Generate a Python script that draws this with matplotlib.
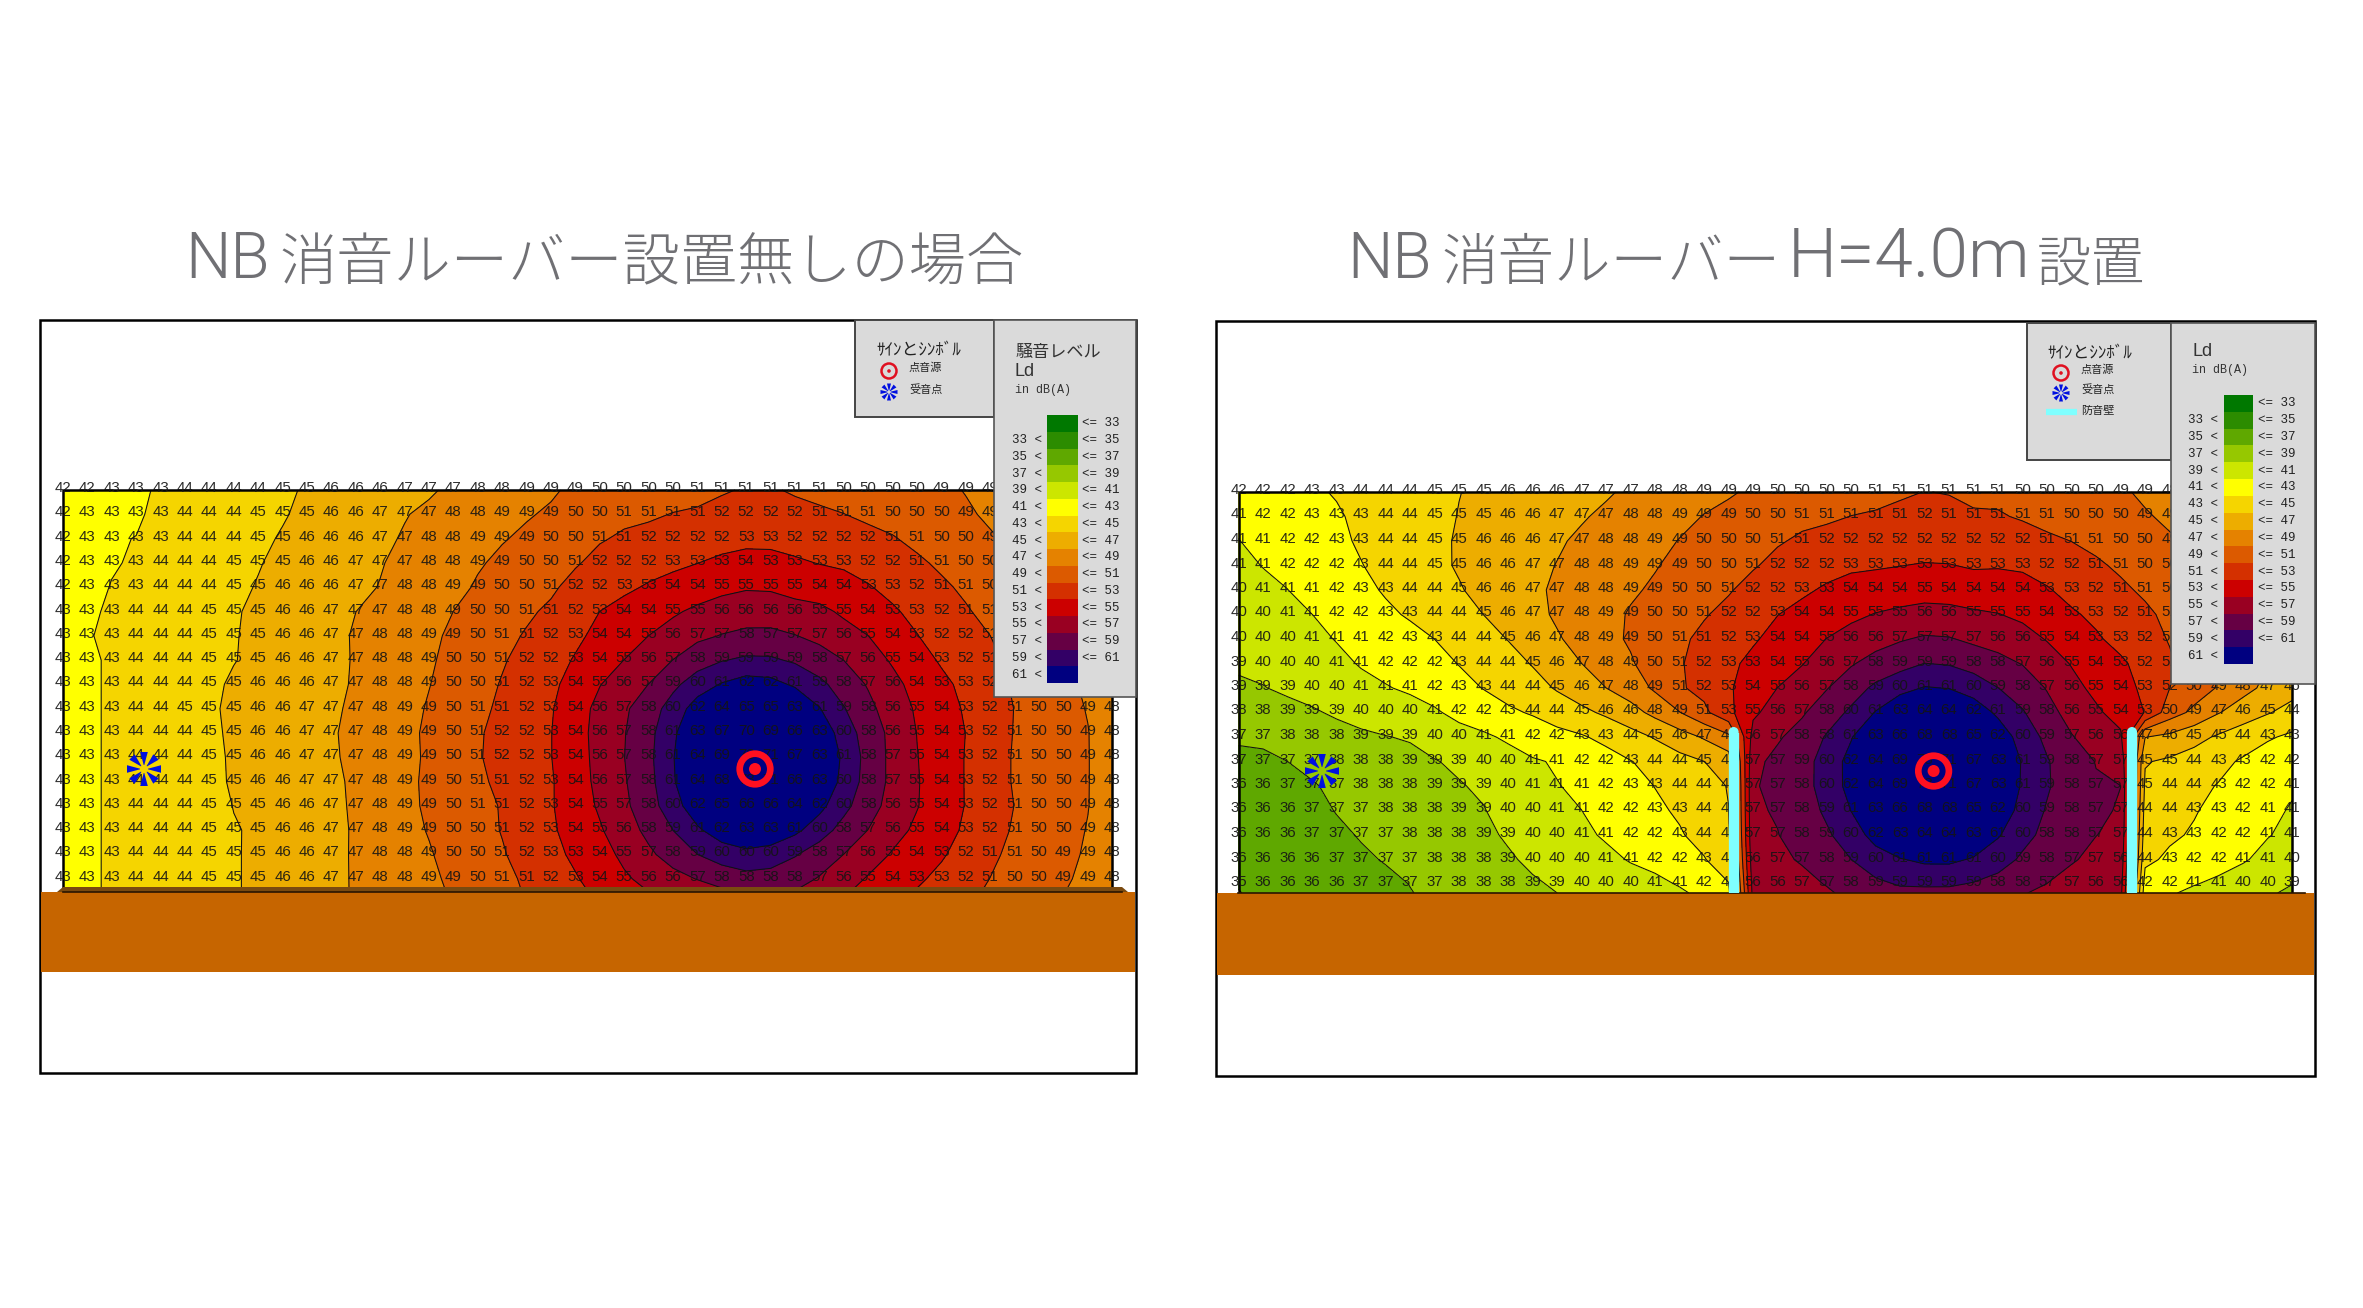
# NB消音ルーバー 騒音コンター図 (設置無し / H=4.0m設置)

import numpy as np
import matplotlib
matplotlib.use("Agg")
import matplotlib.pyplot as plt
from matplotlib.patches import Rectangle, Circle, Polygon

JP_FONT = ['Noto Sans CJK JP', 'DejaVu Sans']

levels = [33, 35, 37, 39, 41, 43, 45, 47, 49, 51, 53, 55, 57, 59, 61]
band_colors = ['#007800', '#2C8C00', '#5FA800', '#96C800', '#CCE600', '#FFFF00',
               '#F5D500', '#EDAD00', '#E58200', '#DC5A00', '#D43000', '#CC0000',
               '#990022', '#660044', '#330066', '#000080']

# 凡例の裏に隠れている値は周囲から読んだ推定
noise_no_louver = [
    [42,42,43,43,43,44,44,44,44,45,45,46,46,46,47,47,47,48,48,49,49,49, 50,50,50,50,51,51,51,51,51,51,50,50,50,50,49,49,49,48,48,47,47,47],
    [42,43,43,43,43,44,44,44,45,45,45,46,46,47,47,47,48,48,49,49,49,50, 50,51,51,51,51,52,52,52,52,51,51,51,50,50,50,49,49,48,48,47,47,47],
    [42,43,43,43,43,44,44,44,45,45,46,46,46,47,47,48,48,49,49,49,50,50, 51,51,52,52,52,52,53,53,52,52,52,52,51,51,50,50,49,49,48,48,47,47],
    [42,43,43,43,44,44,44,45,45,45,46,46,47,47,47,48,48,49,49,50,50,51, 52,52,52,53,53,53,54,53,53,53,53,52,52,51,51,50,50,49,49,48,48,47],
    [42,43,43,43,44,44,44,45,45,46,46,46,47,47,48,48,49,49,50,50,51,52, 52,53,53,54,54,55,55,55,55,54,54,53,53,52,51,51,50,50,49,49,48,48],
    [43,43,43,44,44,44,45,45,45,46,46,47,47,47,48,48,49,50,50,51,51,52, 53,54,54,55,55,56,56,56,56,55,55,54,53,53,52,51,51,50,49,49,48,48],
    [43,43,43,44,44,44,45,45,45,46,46,47,47,48,48,49,49,50,51,51,52,53, 54,54,55,56,57,57,58,57,57,57,56,55,54,53,52,52,51,50,50,49,48,48],
    [43,43,43,44,44,44,45,45,45,46,46,47,47,48,48,49,50,50,51,52,52,53, 54,55,56,57,58,59,59,59,59,58,57,56,55,54,53,52,51,51,50,49,49,48],
    [43,43,43,44,44,44,45,45,46,46,46,47,47,48,48,49,50,50,51,52,53,54, 55,56,57,59,60,61,62,62,61,59,58,57,56,54,53,53,52,51,50,49,49,48],
    [43,43,43,44,44,45,45,45,46,46,47,47,47,48,49,49,50,51,51,52,53,54, 56,57,58,60,62,64,65,65,63,61,59,58,56,55,54,53,52,51,50,50,49,48],
    [43,43,43,44,44,44,45,45,46,46,47,47,47,48,49,49,50,51,52,52,53,54, 56,57,58,61,63,67,70,69,66,63,60,58,56,55,54,53,52,51,50,50,49,48],
    [43,43,43,44,44,44,45,45,46,46,47,47,47,48,49,49,50,51,52,52,53,54, 56,57,58,61,64,69,73,71,67,63,61,58,57,55,54,53,52,51,50,50,49,48],
    [43,43,43,44,44,44,45,45,46,46,47,47,47,48,49,49,50,51,51,52,53,54, 56,57,58,61,64,68,73,71,66,63,60,58,57,55,54,53,52,51,50,50,49,48],
    [43,43,43,44,44,44,45,45,45,46,46,47,47,48,49,49,50,51,51,52,53,54, 55,57,58,60,62,65,66,66,64,62,60,58,56,55,54,53,52,51,50,50,49,48],
    [43,43,43,44,44,44,45,45,45,46,46,47,47,48,49,49,50,50,51,52,53,54, 55,56,58,59,61,62,63,63,61,60,58,57,56,55,54,53,52,51,50,50,49,48],
    [43,43,43,44,44,44,45,45,45,46,46,47,47,48,48,49,50,50,51,52,53,53, 54,55,57,58,59,60,60,60,59,58,57,56,55,54,53,52,51,51,50,49,49,48],
    [43,43,43,44,44,44,45,45,45,46,46,47,47,48,48,49,49,50,51,51,52,53, 54,55,56,56,57,58,58,58,58,57,56,55,54,53,53,52,51,50,50,49,49,48],
]

noise_louver = [
    [42,42,42,43,43,44,44,44,45,45,45,46,46,46,47,47,47,48,48,49,49,49,50, 50,50,50,51,51,51,51,51,51,50,50,50,50,49,49,48,48,47,47,46,46],
    [41,42,42,43,43,43,44,44,45,45,45,46,46,47,47,47,48,48,49,49,49,50,50, 51,51,51,51,51,52,51,51,51,51,51,50,50,50,49,49,48,48,47,47,46],
    [41,41,42,42,43,43,44,44,45,45,46,46,46,47,47,48,48,49,49,50,50,50,51, 51,52,52,52,52,52,52,52,52,52,51,51,51,50,50,49,49,48,48,47,47],
    [41,41,42,42,42,43,44,44,45,45,46,46,47,47,48,48,49,49,49,50,50,51,52, 52,52,53,53,53,53,53,53,53,53,52,52,51,51,50,50,49,49,48,47,47],
    [40,41,41,41,42,43,43,44,44,45,46,46,47,47,48,48,49,49,50,50,51,52,52, 53,53,54,54,54,55,54,54,54,54,53,53,52,51,51,50,50,49,48,48,47],
    [40,40,41,41,42,42,43,43,44,44,45,46,47,47,48,49,49,50,50,51,52,52,53, 54,54,55,55,55,56,56,55,55,55,54,53,53,52,51,51,50,49,48,47,47],
    [40,40,40,41,41,41,42,43,43,44,44,45,46,47,48,49,49,50,51,51,52,53,54, 54,55,56,56,57,57,57,57,56,56,55,54,53,53,52,51,50,49,48,47,46],
    [39,40,40,40,41,41,42,42,42,43,44,44,45,46,47,48,49,50,51,52,53,53,54, 55,56,57,58,59,59,59,58,58,57,56,55,54,53,52,51,50,49,48,47,46],
    [39,39,39,40,40,41,41,41,42,43,43,44,44,45,46,47,48,49,51,52,53,54,55, 56,57,58,59,60,61,61,60,59,58,57,56,55,54,53,52,50,49,48,47,46],
    [38,38,39,39,39,40,40,40,41,42,42,43,44,44,45,46,46,48,49,51,53,55,56, 57,58,60,61,63,64,64,62,61,59,58,56,55,54,53,50,49,47,46,45,44],
    [37,37,38,38,38,39,39,39,40,40,41,41,42,42,43,43,44,45,46,47,48,56,57, 58,58,61,63,66,68,68,65,62,60,59,57,56,56,47,46,45,45,44,43,43],
    [37,37,37,37,38,38,38,39,39,39,40,40,41,41,42,42,43,44,44,45,46,57,57, 59,60,62,64,69,73,71,67,63,61,59,58,57,57,45,45,44,43,43,42,42],
    [36,36,37,37,37,38,38,38,39,39,39,40,41,41,41,42,43,43,44,44,45,57,57, 58,60,62,64,69,73,71,67,63,61,59,58,57,57,45,44,44,43,42,42,41],
    [36,36,36,37,37,37,38,38,38,39,39,40,40,41,41,42,42,43,43,44,45,57,57, 58,59,61,63,66,68,68,65,62,60,59,58,57,57,44,44,43,43,42,41,41],
    [36,36,36,37,37,37,37,38,38,38,39,39,40,40,41,41,42,42,43,44,45,57,57, 58,59,60,62,63,64,64,63,61,60,58,58,57,57,44,43,43,42,42,41,41],
    [36,36,36,36,37,37,37,37,38,38,38,39,40,40,40,41,41,42,42,43,44,56,57, 57,58,59,60,61,61,61,61,60,59,58,57,57,56,44,43,42,42,41,41,40],
    [35,36,36,36,36,37,37,37,37,38,38,38,39,39,40,40,40,41,41,42,43,56,56, 57,57,58,59,59,59,59,59,58,58,57,57,56,56,42,42,41,41,40,40,39],
]

# 丸めの影響を補正するためコンター描画時だけ少し上にずらす
CONTOUR_SHIFT = 0.08


def smooth_field(z, half=2, max_step=5.0):
    # 整数丸めの段差を局所2次フィットで均す (防音壁の急な差は跨がない)
    z = np.array(z, dtype=float)
    rows, cols = z.shape
    out = z.copy()
    for i in range(rows):
        for j in range(cols):
            ii, jj = np.mgrid[max(i - half, 0):min(i + half + 1, rows),
                              max(j - half, 0):min(j + half + 1, cols)]
            ii, jj = ii.ravel(), jj.ravel()
            keep = np.abs(z[ii, jj] - z[i, j]) <= max_step
            if keep.sum() < 9:
                continue
            u, v = (jj[keep] - j).astype(float), (ii[keep] - i).astype(float)
            a = np.column_stack([np.ones_like(u), u, v, u * u, u * v, v * v])
            coef = np.linalg.lstsq(a, z[ii[keep], jj[keep]], rcond=None)[0]
            out[i, j] = coef[0]
    return out


def draw_source(ax, x, y):
    ax.add_patch(Circle((x, y), 15.3, fill=False, ec='#FF1020', lw=4.8, zorder=7))
    ax.add_patch(Circle((x, y), 6.0, fc='#FF1020', ec='none', zorder=7))


def draw_receiver(ax, x, y, r=17.0, r0=4.0, half=3.8, zorder=7):
    for k in range(8):
        a = np.pi / 2 + k * np.pi / 4
        c, s = np.cos(a), np.sin(a)
        pts = [(x + r0 * c - 0.3 * s, y + r0 * s + 0.3 * c),
               (x + r * c - half * s, y + r * s + half * c),
               (x + r * c + half * s, y + r * s - half * c),
               (x + r0 * c + 0.3 * s, y + r0 * s - 0.3 * c)]
        ax.add_patch(Polygon(pts, fc='#0010E0', ec='none', zorder=zorder))


def draw_panel(ax, z, x0, dx, y0, dy, y_bottom, text_dy):
    z = np.array(z)
    xs = x0 + dx * np.arange(z.shape[1])
    ys = y0 + dy * np.arange(z.shape[0])

    # 最下段の下 (地面まで) は最後の勾配で延長
    zs = smooth_field(z)
    last = zs[-1] + (zs[-1] - zs[-2]) * (y_bottom - ys[-1]) / dy
    ys_f = np.append(ys, y_bottom)
    zs = np.vstack([zs, last]) - CONTOUR_SHIFT

    ax.contourf(xs, ys_f, zs, levels=[-100] + levels + [200], colors=band_colors, zorder=1)
    ax.contour(xs, ys_f, zs, levels=levels, colors='#111111', linewidths=0.75, zorder=2)

    # グリッド外枠
    ax.plot([xs[0], xs[0], xs[-1], xs[-1]], [y_bottom, ys[0], ys[0], y_bottom],
            color='black', lw=1.8, zorder=3)

    for i in range(z.shape[0]):
        for j in range(z.shape[1]):
            ax.text(xs[j], ys[i] + text_dy, str(z[i, j]), ha='center', va='center',
                    fontsize=10.8, family='Liberation Sans', color='#141414', alpha=0.9, zorder=4)
    return xs, ys


def draw_color_legend(ax, x_l, x_r, y_t, y_b, label_l, label_r):
    h = (y_b - y_t) / len(band_colors)
    for k, col in enumerate(band_colors):
        ax.add_patch(Rectangle((x_l, y_t + k * h), x_r - x_l, h + 0.3, fc=col, ec='none', zorder=9))
        yc = y_t + (k + 0.5) * h
        if k < len(levels):
            ax.text(label_r, yc, f"<= {levels[k]}", ha='left', va='center', fontsize=9,
                    family='Liberation Mono', color='#222222', zorder=9)
        if k > 0:
            ax.text(label_l, yc, f"{levels[k - 1]} <", ha='right', va='center', fontsize=9,
                    family='Liberation Mono', color='#222222', zorder=9)


def draw_symbol_legend(ax, x_head, x_sym, x_txt, y_head, y_src, y_rcv):
    ax.text(x_head, y_head, "ｻｲﾝとｼﾝﾎﾞﾙ", va='center', fontsize=12.2, family=JP_FONT,
            color='#222222', zorder=9)
    ax.add_patch(Circle((x_sym, y_src), 7.5, fill=False, ec='#E01020', lw=1.8, zorder=9))
    ax.add_patch(Circle((x_sym, y_src), 1.8, fc='#E01020', ec='none', zorder=9))
    draw_receiver(ax, x_sym, y_rcv, r=8.5, r0=1.5, half=2.0, zorder=9)
    ax.text(x_txt, y_src - 3, "点音源", va='center', fontsize=8, family=JP_FONT, color='#222222', zorder=9)
    ax.text(x_txt, y_rcv - 3, "受音点", va='center', fontsize=8, family=JP_FONT, color='#222222', zorder=9)


def title_piece(ax, x, s, latin=False, size=41.2):
    # タイトルは英数字だけ一回り大きい書体
    if latin:
        ax.text(x, 278, s, ha='left', va='baseline', fontsize=size, family='Roboto',
                weight=300, color=TITLE_COLOR)
    else:
        ax.text(x, 280, s, ha='left', va='baseline', fontsize=size, family=JP_FONT,
                weight='light', color=TITLE_COLOR)


fig = plt.figure(figsize=(23.63, 13.08), dpi=100, facecolor='white')
ax = fig.add_axes([0, 0, 1, 1])
ax.set_xlim(0, 2363)
ax.set_ylim(1308, 0)
ax.axis('off')

LEGEND_BG = '#DADADA'
GROUND = '#C66500'
TITLE_COLOR = '#707074'

title_piece(ax, 185, "NB", latin=True, size=46)
title_piece(ax, 279, "消音ルーバー設置無しの場合", size=41.2)
title_piece(ax, 1347, "NB", latin=True, size=46)
title_piece(ax, 1441, "消音ルーバー", size=40.7)
title_piece(ax, 1788, "H=4.0m", latin=True, size=50)
title_piece(ax, 2037, "設置", size=39)

# ---- 左: 設置無し ----
ax.add_patch(Rectangle((40, 320), 1096, 753, fc='white', ec='black', lw=1.8, zorder=0))
xs, ys = draw_panel(ax, noise_no_louver, 63, 24.4, 490, 24.3, 892, -2)
ax.add_patch(Rectangle((41, 892), 1094, 80, fc=GROUND, ec='none', zorder=5))
ax.add_patch(Polygon([(57, 892), (63, 887), (1122, 887), (1128, 892)], fc='#7A4A10', ec='none', zorder=5))
ax.plot([63, 1122], [892, 892], color='#2a1500', lw=1.2, zorder=5)
draw_source(ax, 755, 769)
draw_receiver(ax, 144, 769)

ax.add_patch(Rectangle((855, 320), 139, 97, fc=LEGEND_BG, ec='#444444', lw=1.4, zorder=8))
ax.add_patch(Rectangle((994, 320), 142, 377, fc=LEGEND_BG, ec='#555555', lw=1.2, zorder=8))
draw_symbol_legend(ax, 876, 889, 909, 350, 371, 392)
ax.text(1015, 352, "騒音レベル", va='center', fontsize=12.3, family=JP_FONT, color='#333333', zorder=9)
ax.text(1015, 372, "Ld", va='center', fontsize=13, family='Liberation Sans', color='#333333', zorder=9)
ax.text(1015, 390, "in dB(A)", va='center', fontsize=8.5, family='Liberation Mono', color='#333333', zorder=9)
draw_color_legend(ax, 1047, 1078, 415, 683, 1042, 1082)

# ---- 右: H=4.0m設置 ----
ax.add_patch(Rectangle((1216, 321), 1099, 755, fc='white', ec='black', lw=1.8, zorder=0))
xs, ys = draw_panel(ax, noise_louver, 1238.6, 24.5, 492, 24.5, 893, -2)
ax.add_patch(Rectangle((1217, 893), 1097, 82, fc=GROUND, ec='none', zorder=5))
ax.plot([1238, 2305], [893, 893], color='#2a1500', lw=1.2, zorder=5)
# 防音壁
for bx in (1733.6, 2132):
    ax.plot([bx, bx], [733, 893], color='#7FFFFF', lw=7.4, solid_capstyle='butt', zorder=6)
    ax.add_patch(Circle((bx, 732), 5, fc='#7FFFFF', ec='none', zorder=6))
draw_source(ax, 1933.6, 771)
draw_receiver(ax, 1322, 771)

ax.add_patch(Rectangle((2027, 323), 144, 137, fc=LEGEND_BG, ec='#444444', lw=1.4, zorder=8))
ax.add_patch(Rectangle((2171, 323), 144, 361, fc=LEGEND_BG, ec='#555555', lw=1.2, zorder=8))
draw_symbol_legend(ax, 2047, 2061, 2081, 353, 373, 393)
ax.text(2081, 411, "防音壁", va='center', fontsize=8, family=JP_FONT, color='#222222', zorder=9)
ax.plot([2046, 2077], [412, 412], color='#7FFFFF', lw=4.5, solid_capstyle='butt', zorder=9)
ax.text(2192, 352, "Ld", va='center', fontsize=13, family='Liberation Sans', color='#333333', zorder=9)
ax.text(2192, 370, "in dB(A)", va='center', fontsize=8.5, family='Liberation Mono', color='#333333', zorder=9)
draw_color_legend(ax, 2224, 2253, 395, 664, 2218, 2258)

fig.savefig("out.png", dpi=100)
